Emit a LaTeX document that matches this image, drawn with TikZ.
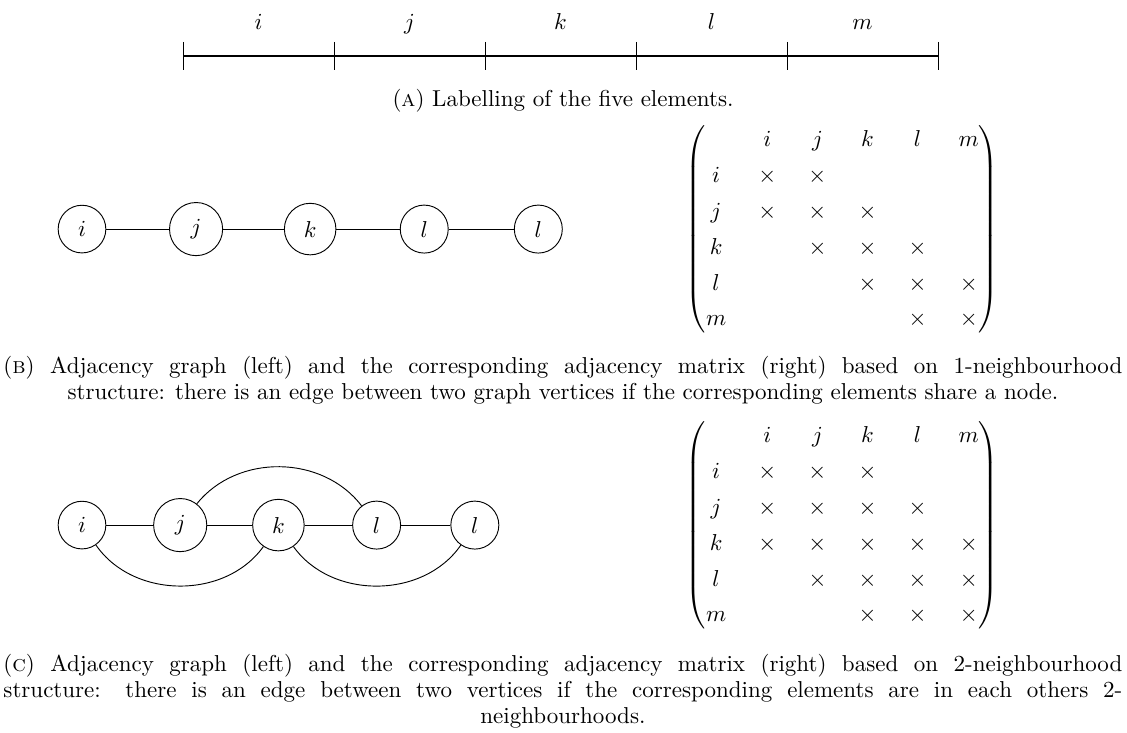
\documentclass[tikz,border=0pt]{standalone}
\usepackage{amsmath}
\usepackage{tikz}
\usetikzlibrary{positioning}

\renewcommand{\arraystretch}{1.3}
\setlength{\arraycolsep}{7pt}
\newcommand{\capcenterlast}{\leftskip=0pt plus 1fil\rightskip=0pt plus -1fil\parfillskip=0pt plus 2fil\relax}

\begin{document}
\begin{tikzpicture}[
  x=1pt, y=1pt,
  vertex/.style={circle, draw, inner sep=4.8pt},
  subcap/.style={text width=486.5pt, inner sep=0pt, anchor=north west, align=justify,
    font=\fontsize{10pt}{11.3pt}\selectfont},
  node distance=49.6pt, on grid,
]
  \useasboundingbox (0,0) rectangle (490.0,-318.3);

  % (a) the five elements
  \foreach \n in {0,...,5}
    \coordinate (t\n) at (79.57+65.65*\n,-24.35);
  \draw[thick] (t0) -- (t5);
  \foreach \n in {0,...,5}
    \draw ([yshift=6.1pt]t\n) -- ([yshift=-6.1pt]t\n);
  \foreach \e [count=\n from 0] in {i,j,k,l,m}
    \node[anchor=base] (el\e) at (112.4+65.65*\n,-13) {$\e$};
  \node[anchor=base] (capa) at (244.8,-46.5) {(\textsc{a}) Labelling of the five elements.};

  % (b) 1-neighbourhood
  \node[vertex] (bi) at (35.65,-99.6) {$i$};
  \node[vertex, right=of bi] (bj) {$j$};
  \node[vertex, right=of bj] (bk) {$k$};
  \node[vertex, right=of bk] (bl) {$l$};
  \node[vertex, right=of bl] (bm) {$l$};
  \draw (bi) -- (bj) -- (bk) -- (bl) -- (bm);
  \node (bmat) at (366.3,-99.6) {$\begin{pmatrix}
      & i & j & k & l & m \\
    i & \times & \times & & & \\
    j & \times & \times & \times & & \\
    k & & \times & \times & \times & \\
    l & & & \times & \times & \times \\
    m & & & & \times & \times
  \end{pmatrix}$};
  \node[subcap] (capb) at (1.3,-154.7) {\capcenterlast (\textsc{b}) Adjacency graph (left) and the corresponding adjacency matrix (right) based on 1-neighbourhood\linebreak structure: there is an edge between two graph vertices if the corresponding elements share a node.\par};

  % (c) 2-neighbourhood
  \begin{scope}[node distance=42.7pt]
    \node[vertex] (ci) at (35.65,-228.3) {$i$};
    \node[vertex, right=of ci] (cj) {$j$};
    \node[vertex, right=of cj] (ck) {$k$};
    \node[vertex, right=of ck] (cl) {$l$};
    \node[vertex, right=of cl] (cm) {$l$};
  \end{scope}
  \draw (ci) -- (cj) -- (ck) -- (cl) -- (cm);
  \draw (cj) to[bend left=52] (cl);
  \draw (ci) to[bend right=55] (ck);
  \draw (ck) to[bend right=55] (cm);
  \node (cmat) at (366.3,-228.3) {$\begin{pmatrix}
      & i & j & k & l & m \\
    i & \times & \times & \times & & \\
    j & \times & \times & \times & \times & \\
    k & \times & \times & \times & \times & \times \\
    l & & \times & \times & \times & \times \\
    m & & & \times & \times & \times
  \end{pmatrix}$};
  \node[subcap] (capc) at (1.3,-284.2) {\capcenterlast (\textsc{c}) Adjacency graph (left) and the corresponding adjacency matrix (right) based on 2-neighbourhood\linebreak structure: there is an edge between two vertices if the corresponding elements are in each others 2-\linebreak neighbourhoods.\par};
\end{tikzpicture}
\end{document}
